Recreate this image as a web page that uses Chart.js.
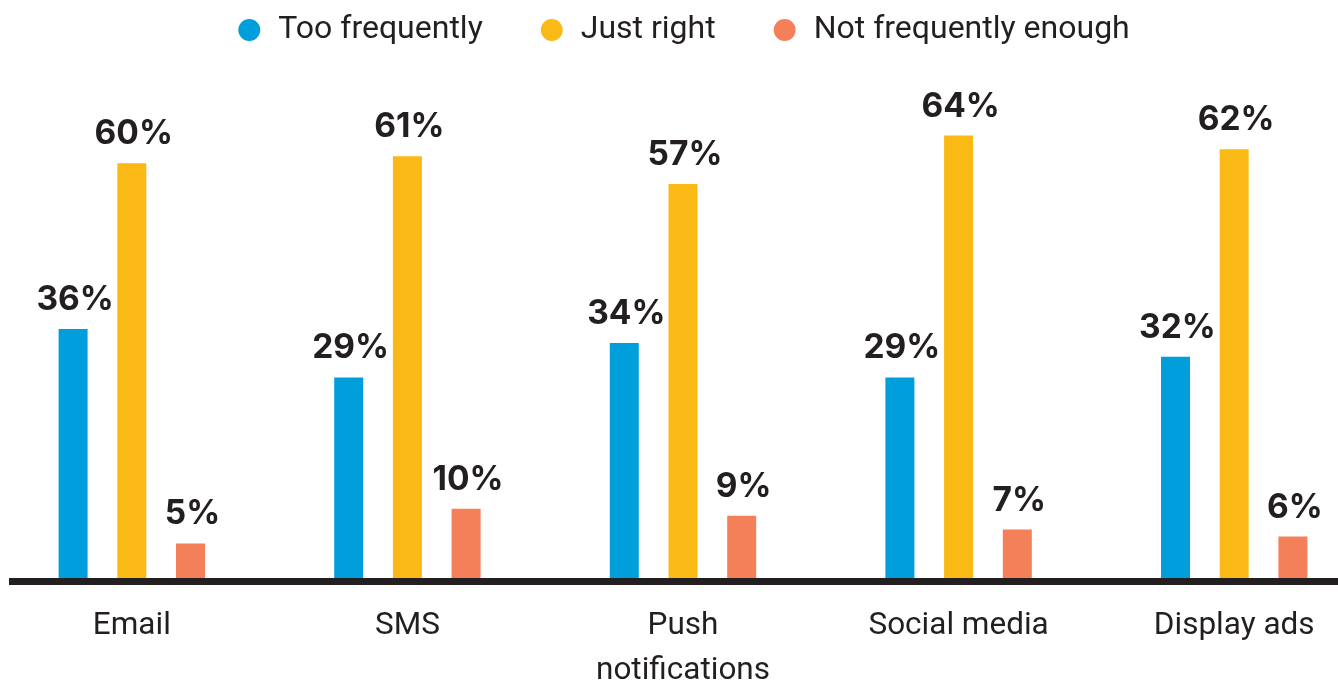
<!DOCTYPE html>
<html>
<head>
<meta charset="utf-8">
<script src="https://cdn.jsdelivr.net/npm/chart.js@4/dist/chart.umd.min.js"></script>
<style>
  html, body { margin: 0; padding: 0; background: #fff; overflow: hidden; }
  #wrap { position: absolute; left: -6px; top: 0; width: 1378px; height: 681px; }
</style>
</head>
<body>
<div id="wrap"><canvas id="c"></canvas></div>
<script>
const categories = ["Email", "SMS", ["Push", "notifications"], "Social media", "Display ads"];
const seriesNames = ["Too frequently", "Just right", "Not frequently enough"];
const tooFrequently = [36, 29, 34, 29, 32];
const justRight = [60, 61, 57, 64, 62];
const notEnough = [5, 10, 9, 7, 6];
const colors = ["#009FDB", "#FBB916", "#F4805A"];
const textColor = "#231F20";

const labelPlugin = {
  id: 'valueLabels',
  afterDatasetsDraw(chart) {
    const ctx = chart.ctx;
    ctx.save();
    ctx.font = "700 33.5px Inter, 'Open Sans', sans-serif";
    ctx.fillStyle = textColor;
    ctx.textAlign = 'center';
    ctx.textBaseline = 'alphabetic';
    chart.data.datasets.forEach((ds, i) => {
      chart.getDatasetMeta(i).data.forEach((bar, j) => {
        ctx.fillText(ds.data[j] + '%', bar.x + 2, bar.y - 19);
      });
    });
    ctx.restore();
  }
};

const baselinePlugin = {
  id: 'baseline',
  afterDatasetsDraw(chart) {
    const ctx = chart.ctx;
    const y = chart.scales.y.getPixelForValue(0);
    ctx.save();
    ctx.strokeStyle = textColor;
    ctx.lineWidth = 7;
    ctx.beginPath();
    ctx.moveTo(15, y + 3.5);
    ctx.lineTo(chart.width, y + 3.5);
    ctx.stroke();
    ctx.restore();
  }
};

new Chart(document.getElementById('c'), {
  type: 'bar',
  data: {
    labels: categories,
    datasets: [
      { label: seriesNames[0], data: tooFrequently, backgroundColor: colors[0] },
      { label: seriesNames[1], data: justRight, backgroundColor: colors[1] },
      { label: seriesNames[2], data: notEnough, backgroundColor: colors[2] }
    ]
  },
  options: {
    responsive: true,
    maintainAspectRatio: false,
    animation: false,
    layout: { padding: { left: 0, right: 0, top: -42, bottom: 0 } },
    datasets: { bar: { categoryPercentage: 0.639, barPercentage: 0.494 } },
    plugins: {
      tooltip: { enabled: false },
      legend: {
        position: 'top',
        labels: {
          usePointStyle: true,
          pointStyle: 'circle',
          boxWidth: 26,
          boxHeight: 15.5,
          padding: 56,
          color: textColor,
          font: { family: 'Roboto', size: 32 }
        }
      }
    },
    scales: {
      x: {
        grid: { display: false, drawTicks: false },
        border: { display: false },
        afterFit(scale) { scale.height = 103; },
        ticks: {
          color: textColor,
          padding: 25,
          maxRotation: 0,
          autoSkip: false,
          font: { family: 'Roboto', size: 31.5, lineHeight: 1.45 }
        }
      },
      y: {
        display: false,
        min: 0,
        max: 75.5
      }
    }
  },
  plugins: [labelPlugin, baselinePlugin]
});
</script>
</body>
</html>
